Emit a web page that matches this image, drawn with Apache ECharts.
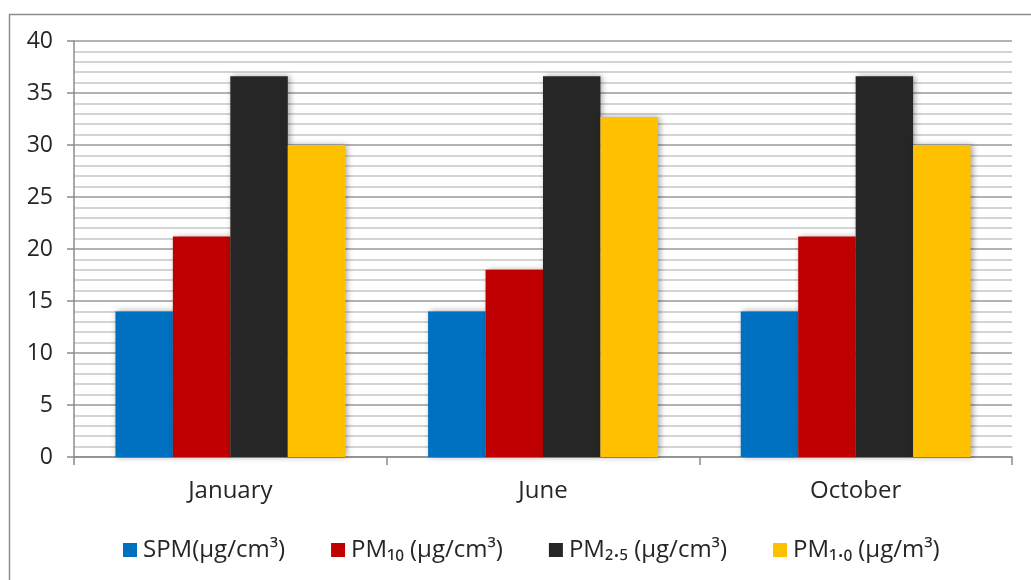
<!DOCTYPE html>
<html>
<head>
<meta charset="utf-8">
<script src="https://cdn.jsdelivr.net/npm/echarts@6/dist/echarts.min.js"></script>
<style>
  html, body { margin: 0; padding: 0; background: #ffffff; }
  #chart { width: 1031px; height: 580px; }
</style>
</head>
<body>
<div id="chart"></div>
<script>
// Monthly particulate matter readings
const months = ['January', 'June', 'October'];
const seriesNames = ['SPM(µg/cm³)', 'PM₁₀ (µg/cm³)', 'PM₂.₅ (µg/cm³)', 'PM₁.₀ (µg/m³)'];
const spm = [14, 14, 14];
const pm10 = [21.2, 18, 21.2];
const pm25 = [36.6, 36.6, 36.6];
const pm10small = [30, 32.7, 30];
const colors = ['#0070c0', '#c00000', '#262626', '#ffc000'];
const yTicks = { min: 0, max: 40, interval: 5 };

const FONT = '"Open Sans", "Noto Sans", sans-serif';
const values = [spm, pm10, pm25, pm10small];

const chart = echarts.init(document.getElementById('chart'));
chart.setOption({
  animation: false,
  backgroundColor: '#ffffff',
  textStyle: { fontFamily: FONT },
  graphic: [{
    type: 'rect',
    left: 7, top: 12,
    shape: { width: 1100, height: 700 },
    style: { fill: 'none', stroke: '#8c8c8c', lineWidth: 1.5 },
    silent: true,
    z: -1
  }],
  grid: { left: 74, right: 19, top: 41, bottom: 123, containLabel: false },
  legend: {
    top: 533,
    left: 118,
    itemWidth: 14,
    itemHeight: 14,
    itemGap: 46,
    icon: 'rect',
    textStyle: { fontFamily: FONT, fontSize: 24, color: '#262626', padding: [0, 0, 0, 1] },
    data: seriesNames
  },
  xAxis: {
    type: 'category',
    data: months,
    axisLine: { lineStyle: { color: '#8c8c8c', width: 1.5 } },
    axisTick: { show: true, length: 8, alignWithLabel: false, lineStyle: { color: '#8c8c8c', width: 1.5 } },
    axisLabel: { fontFamily: FONT, fontSize: 24, color: '#262626', margin: 22 },
    splitLine: { show: false }
  },
  yAxis: {
    type: 'value',
    min: yTicks.min,
    max: yTicks.max,
    interval: yTicks.interval,
    axisLine: { show: true, lineStyle: { color: '#8c8c8c', width: 1.5 } },
    axisTick: { show: true, length: 7, lineStyle: { color: '#8c8c8c', width: 1.5 } },
    axisLabel: { fontFamily: FONT, fontSize: 23, color: '#262626', margin: 21 },
    splitLine: { show: true, lineStyle: { color: '#9a9a9a', width: 1.5 } },
    minorTick: { show: false, splitNumber: 5 },
    minorSplitLine: { show: true, lineStyle: { color: '#c6c6c6', width: 1.5 } }
  },
  series: seriesNames.map((name, i) => ({
    name: name,
    type: 'bar',
    data: values[i],
    barGap: '0%',
    barCategoryGap: '26.5%',
    itemStyle: {
      color: colors[i],
      shadowBlur: 6,
      shadowColor: 'rgba(0,0,0,0.35)',
      shadowOffsetX: 2,
      shadowOffsetY: 0
    }
  }))
});
</script>
</body>
</html>
